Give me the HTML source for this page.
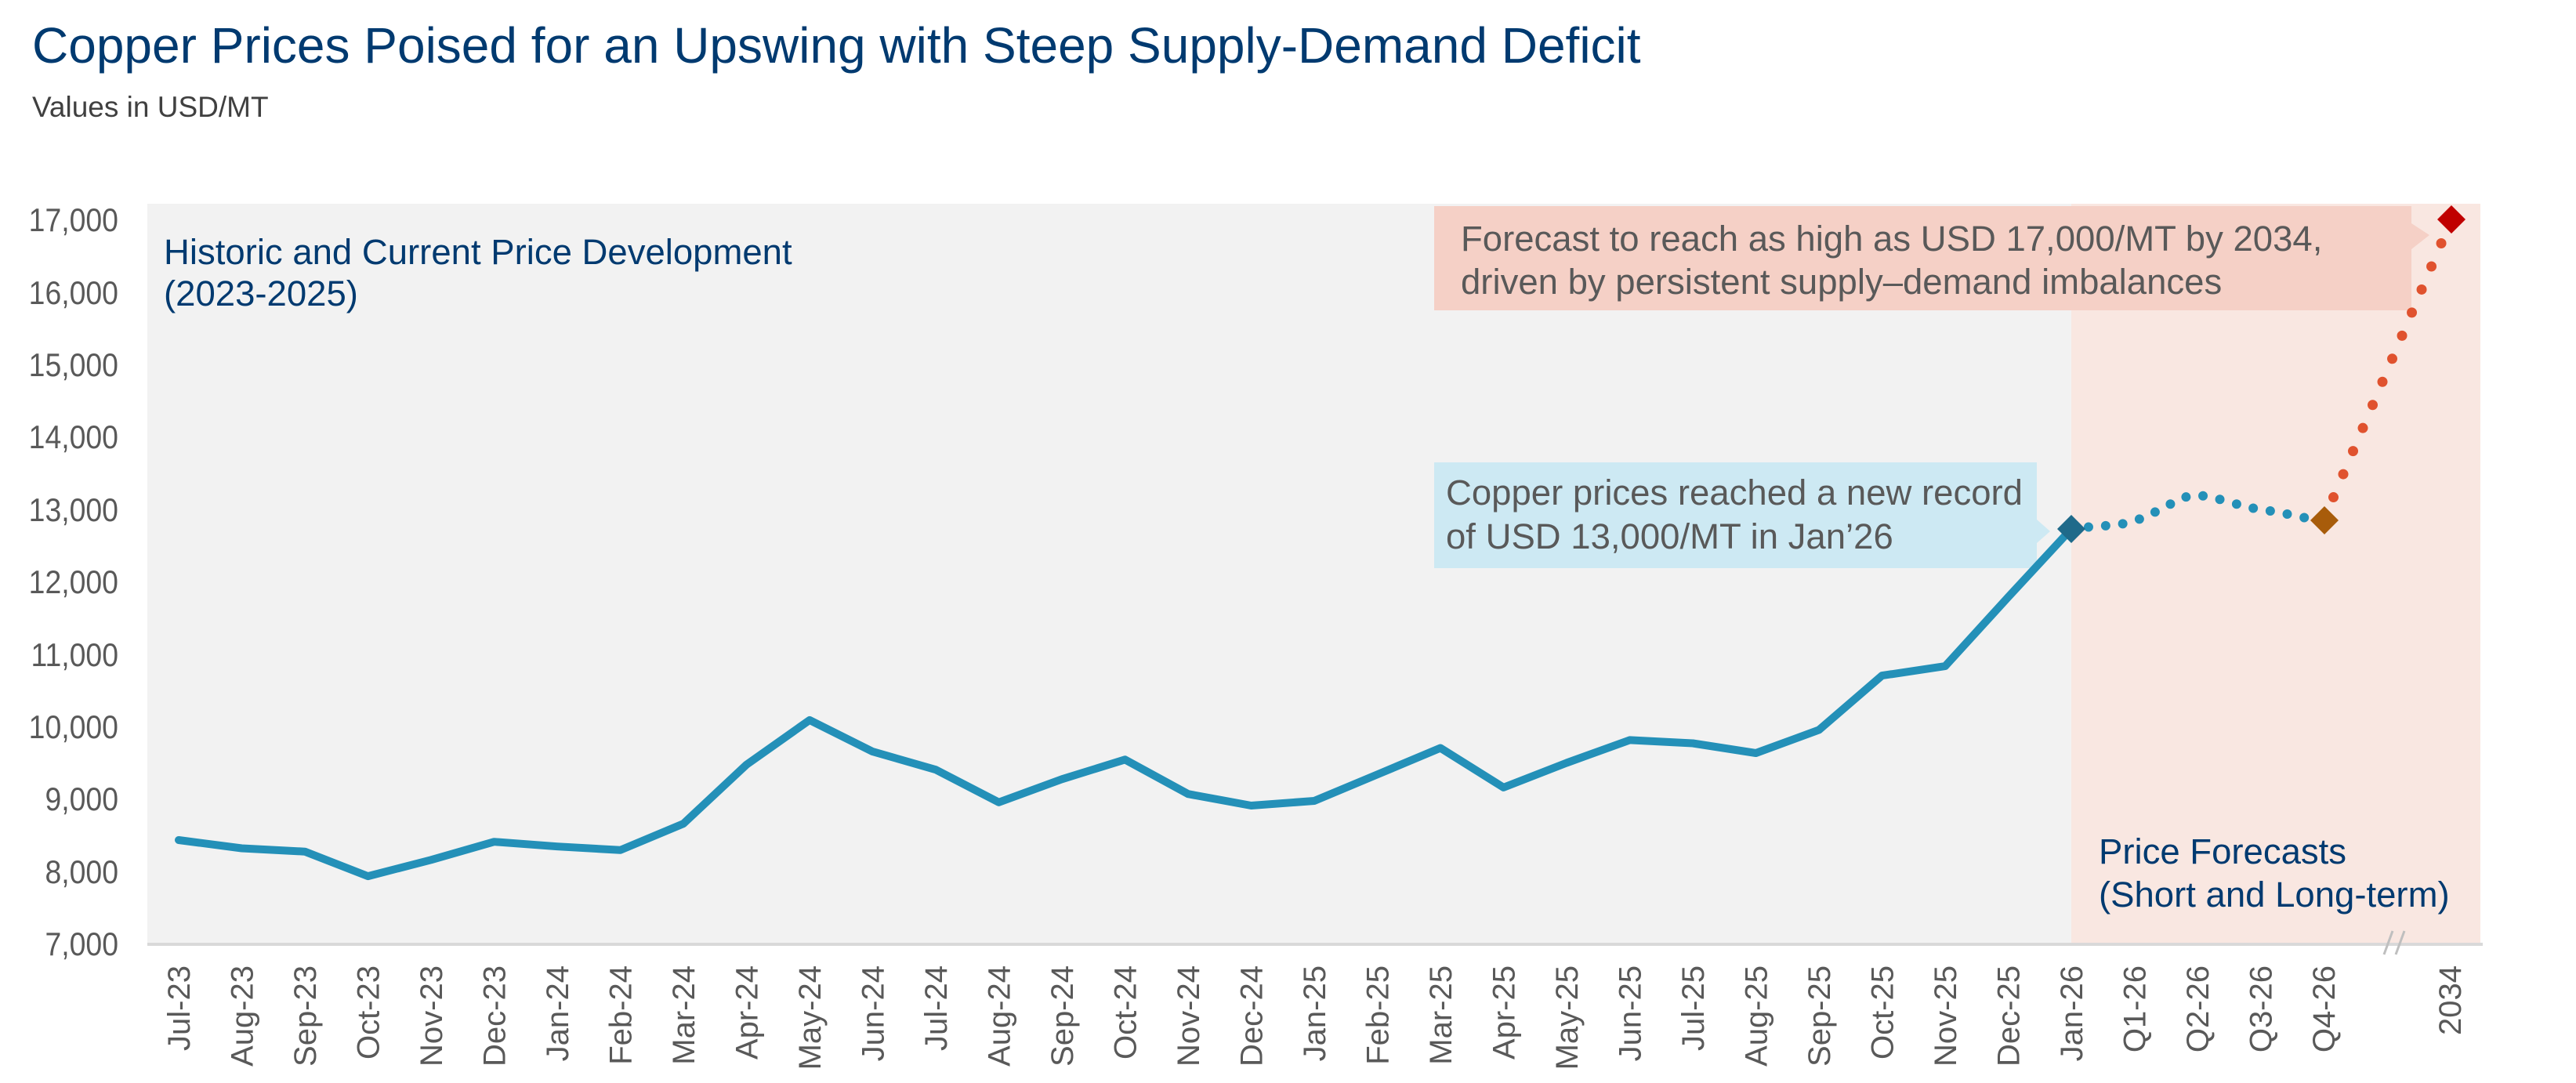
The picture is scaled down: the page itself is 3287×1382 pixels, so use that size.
<!DOCTYPE html>
<html><head><meta charset="utf-8"><style>
html,body{margin:0;padding:0;background:#fff;}
svg{display:block;font-family:"Liberation Sans",Arial,sans-serif;}
</style></head><body>
<svg width="3287" height="1382" viewBox="0 0 3287 1382" xmlns="http://www.w3.org/2000/svg">
<text x="41" y="80" font-size="64" fill="#003a70">Copper Prices Poised for an Upswing with Steep Supply-Demand Deficit</text>
<text x="41" y="149" font-size="37" fill="#404040">Values in USD/MT</text>
<rect x="188" y="260" width="2455" height="944" fill="#f2f2f2"/>
<rect x="2643" y="260" width="522" height="944" fill="#f9e7e1"/>
<line x1="188" y1="1205" x2="3168" y2="1205" stroke="#d9d9d9" stroke-width="4"/>
<g stroke="#bfbfbf" stroke-width="3"><line x1="3042" y1="1218" x2="3053" y2="1188"/><line x1="3057" y1="1218" x2="3068" y2="1188"/></g>
<g font-size="42" fill="#595959" text-anchor="end" transform="translate(151,0) scale(0.89,1) translate(-151,0)">
<text x="151" y="1219">7,000</text><text x="151" y="1127">8,000</text><text x="151" y="1034">9,000</text><text x="151" y="942">10,000</text><text x="151" y="850">11,000</text><text x="151" y="757">12,000</text><text x="151" y="665">13,000</text><text x="151" y="572">14,000</text><text x="151" y="480">15,000</text><text x="151" y="388">16,000</text><text x="151" y="295">17,000</text>
</g>
<text font-size="45.5" fill="#003a70"><tspan x="209" y="337">Historic and Current Price Development</tspan><tspan x="209" y="390">(2023-2025)</tspan></text>
<text font-size="45.5" fill="#003a70"><tspan x="2678" y="1102">Price Forecasts</tspan><tspan x="2678" y="1157">(Short and Long-term)</tspan></text>
<polygon points="1830,263 3077,263 3077,285 3100,300 3077,318 3077,396 1830,396" fill="#f5d0c6"/>
<text font-size="45.5" fill="#595959"><tspan x="1864" y="320">Forecast to reach as high as USD 17,000/MT by 2034,</tspan><tspan x="1864" y="375">driven by persistent supply–demand imbalances</tspan></text>
<polygon points="1830,590 2599,590 2599,663 2616,678 2599,693 2599,725 1830,725" fill="#cde9f3"/>
<text font-size="45.5" fill="#595959"><tspan x="1845" y="644">Copper prices reached a new record</tspan><tspan x="1845" y="700">of USD 13,000/MT in Jan’26</tspan></text>
<polyline fill="none" stroke="#2490b8" stroke-width="10" stroke-linejoin="round" stroke-linecap="round" points="228,1072 308.5,1082.5 389,1086.7 469.5,1118.1 550,1097.3 630.5,1074.2 711,1080.2 791.5,1084.8 872,1051.1 952.5,975.8 1033,918.9 1113.5,959.1 1194,982.2 1274.5,1023.8 1355,994.3 1435.5,969.3 1516,1013.2 1596.5,1028 1677,1022 1757.5,988.3 1838,954.5 1918.5,1004.9 1999,973.5 2079.5,944.4 2160,948.5 2240.5,961 2321,931.4 2401.5,862.1 2482,850.1 2562.5,761.9 2643,675"/>
<path d="M2643 675 C2680 670,2700 672,2723 665 C2760 652,2785 630,2804 632 C2830 634,2860 647,2884 650 C2920 655,2940 662,2965 664" fill="none" stroke="#2490b8" stroke-width="12" stroke-linecap="round" stroke-dasharray="0 22"/>
<path d="M2965 664 L3128 280" fill="none" stroke="#e0522e" stroke-width="13" stroke-linecap="round" stroke-dasharray="0 32"/>
<polygon points="2643,657 2661,675 2643,693 2625,675" fill="#1f6a8a"/>
<polygon points="2966,646 2984,664 2966,682 2948,664" fill="#a85c0a"/>
<polygon points="3128,262 3146,280 3128,298 3110,280" fill="#c00000"/>
<g font-size="40" fill="#595959" text-anchor="end">
<text transform="translate(242,1232) rotate(-90)">Jul-23</text>
<text transform="translate(322.5,1232) rotate(-90)">Aug-23</text>
<text transform="translate(403,1232) rotate(-90)">Sep-23</text>
<text transform="translate(483.5,1232) rotate(-90)">Oct-23</text>
<text transform="translate(564,1232) rotate(-90)">Nov-23</text>
<text transform="translate(644.5,1232) rotate(-90)">Dec-23</text>
<text transform="translate(725,1232) rotate(-90)">Jan-24</text>
<text transform="translate(805.5,1232) rotate(-90)">Feb-24</text>
<text transform="translate(886,1232) rotate(-90)">Mar-24</text>
<text transform="translate(966.5,1232) rotate(-90)">Apr-24</text>
<text transform="translate(1047,1232) rotate(-90)">May-24</text>
<text transform="translate(1127.5,1232) rotate(-90)">Jun-24</text>
<text transform="translate(1208,1232) rotate(-90)">Jul-24</text>
<text transform="translate(1288.5,1232) rotate(-90)">Aug-24</text>
<text transform="translate(1369,1232) rotate(-90)">Sep-24</text>
<text transform="translate(1449.5,1232) rotate(-90)">Oct-24</text>
<text transform="translate(1530,1232) rotate(-90)">Nov-24</text>
<text transform="translate(1610.5,1232) rotate(-90)">Dec-24</text>
<text transform="translate(1691,1232) rotate(-90)">Jan-25</text>
<text transform="translate(1771.5,1232) rotate(-90)">Feb-25</text>
<text transform="translate(1852,1232) rotate(-90)">Mar-25</text>
<text transform="translate(1932.5,1232) rotate(-90)">Apr-25</text>
<text transform="translate(2013,1232) rotate(-90)">May-25</text>
<text transform="translate(2093.5,1232) rotate(-90)">Jun-25</text>
<text transform="translate(2174,1232) rotate(-90)">Jul-25</text>
<text transform="translate(2254.5,1232) rotate(-90)">Aug-25</text>
<text transform="translate(2335,1232) rotate(-90)">Sep-25</text>
<text transform="translate(2415.5,1232) rotate(-90)">Oct-25</text>
<text transform="translate(2496,1232) rotate(-90)">Nov-25</text>
<text transform="translate(2576.5,1232) rotate(-90)">Dec-25</text>
<text transform="translate(2657,1232) rotate(-90)">Jan-26</text>
<text transform="translate(2737.5,1232) rotate(-90)">Q1-26</text>
<text transform="translate(2818,1232) rotate(-90)">Q2-26</text>
<text transform="translate(2898.5,1232) rotate(-90)">Q3-26</text>
<text transform="translate(2979,1232) rotate(-90)">Q4-26</text>
<text transform="translate(3140,1232) rotate(-90)">2034</text>
</g>
</svg>
</body></html>
